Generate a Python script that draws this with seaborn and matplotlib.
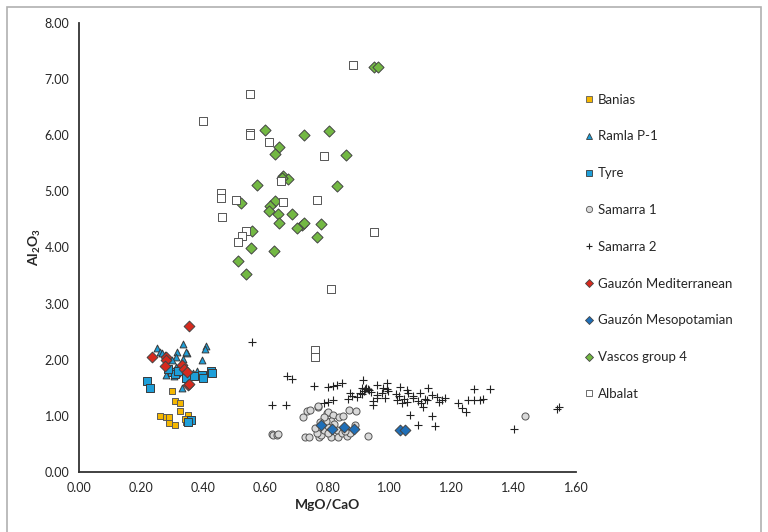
import matplotlib
matplotlib.use("Agg")
import matplotlib.pyplot as plt
import seaborn as sns
from matplotlib.lines import Line2D
from matplotlib.patches import Rectangle

# --- data ---
banias_x = [0.30, 0.31, 0.325, 0.325, 0.26, 0.28, 0.29, 0.29, 0.31, 0.35, 0.345, 0.355, 0.34]
banias_y = [1.45, 1.27, 1.22, 1.08, 1.00, 0.97, 0.98, 0.87, 0.84, 1.01, 0.88, 0.90, 0.94]

ramla_x = [0.25, 0.26, 0.267, 0.335, 0.41, 0.405, 0.395, 0.315, 0.347, 0.312, 0.278, 0.29, 0.30,
           0.28, 0.315, 0.33, 0.38, 0.368, 0.357, 0.30, 0.305, 0.347, 0.333, 0.344, 0.313]
ramla_y = [2.21, 2.14, 2.12, 2.27, 2.24, 2.19, 1.99, 2.14, 2.12, 2.05, 2.08, 2.01, 2.00,
           1.73, 1.76, 1.50, 1.79, 1.76, 1.73, 1.82, 1.71, 1.67, 2.02, 2.13, 1.86]

tyre_x = [0.218, 0.229, 0.30, 0.396, 0.40, 0.425, 0.427, 0.36, 0.35, 0.31, 0.32, 0.345, 0.285, 0.37]
tyre_y = [1.62, 1.50, 1.78, 1.72, 1.67, 1.79, 1.76, 0.92, 0.89, 1.74, 1.80, 1.68, 1.84, 1.70]

sam1_x = [0.62, 0.625, 0.636, 0.64, 0.728, 0.74, 0.722, 0.735, 0.744, 0.768, 0.77, 0.797, 0.80,
          0.819, 0.838, 0.851, 0.87, 0.892, 0.774, 0.78, 0.787, 0.80, 0.81, 0.81, 0.795, 0.765,
          0.83, 0.835, 0.846, 0.862, 0.872, 0.889, 0.93, 1.437, 0.79, 0.82, 0.76, 0.80, 0.855, 0.775]
sam1_y = [0.67, 0.65, 0.66, 0.68, 0.62, 0.62, 0.97, 1.08, 1.10, 1.15, 1.18, 1.05, 1.06,
          1.02, 0.98, 1.00, 1.11, 1.09, 0.62, 0.66, 0.75, 0.81, 0.63, 0.90, 0.90, 0.69,
          0.75, 0.63, 0.69, 0.64, 0.69, 0.84, 0.64, 1.00, 0.97, 0.85, 0.78, 0.70, 0.72, 0.88]

sam2_x = [0.556, 0.67, 0.685, 0.62, 0.665, 0.755, 0.80, 0.817, 0.832, 0.846, 0.872, 0.817, 0.79,
          0.80, 0.915, 0.91, 0.92, 0.925, 0.93, 0.918, 0.935, 0.905, 0.894, 0.958, 0.99, 0.99,
          0.98, 0.995, 0.974, 0.958, 0.947, 0.985, 1.033, 1.055, 1.023, 1.039, 1.055, 1.03,
          1.045, 1.066, 1.076, 1.098, 1.108, 1.09, 1.10, 1.115, 1.125, 1.135, 1.12, 1.151,
          1.168, 1.178, 1.16, 1.135, 1.092, 1.146, 1.221, 1.232, 1.246, 1.253, 1.27, 1.272,
          1.29, 1.30, 1.323, 1.40, 1.538, 1.545, 0.94, 0.96, 1.06, 1.075, 1.02, 0.88, 0.865,
          0.91, 0.945]
sam2_y = [2.31, 1.71, 1.65, 1.20, 1.20, 1.53, 1.52, 1.53, 1.55, 1.58, 1.41, 1.28, 1.23,
          1.25, 1.63, 1.49, 1.47, 1.50, 1.48, 1.45, 1.46, 1.41, 1.34, 1.55, 1.59, 1.48,
          1.50, 1.45, 1.40, 1.31, 1.19, 1.31, 1.51, 1.46, 1.28, 1.22, 1.25, 1.35,
          1.30, 1.02, 1.31, 1.40, 1.16, 1.27, 1.22, 1.30, 1.49, 1.37, 1.28, 1.34,
          1.28, 1.31, 1.24, 1.00, 0.84, 0.81, 1.22, 1.13, 1.07, 1.28, 1.47, 1.28,
          1.28, 1.30, 1.47, 0.76, 1.12, 1.15, 1.42, 1.37, 1.40, 1.35, 1.38, 1.35, 1.30,
          1.38, 1.27]

gmed_x = [0.353, 0.235, 0.281, 0.28, 0.277, 0.33, 0.338, 0.347, 0.352, 0.355]
gmed_y = [2.60, 2.04, 2.05, 1.99, 1.89, 1.91, 1.84, 1.78, 1.55, 1.57]

gmes_x = [0.778, 0.813, 0.854, 0.884, 1.033, 1.049]
gmes_y = [0.83, 0.77, 0.80, 0.77, 0.74, 0.74]

vascos_x = [0.948, 0.962, 0.597, 0.723, 0.806, 0.645, 0.632, 0.859, 0.657, 0.673, 0.652, 0.572,
            0.831, 0.521, 0.632, 0.616, 0.61, 0.642, 0.687, 0.644, 0.718, 0.725, 0.703, 0.78,
            0.765, 0.556, 0.553, 0.627, 0.512, 0.537]
vascos_y = [7.22, 7.22, 6.10, 6.01, 6.07, 5.79, 5.66, 5.65, 5.27, 5.22, 5.24, 5.12,
            5.10, 4.79, 4.83, 4.73, 4.64, 4.60, 4.60, 4.44, 4.40, 4.43, 4.35, 4.41,
            4.18, 4.29, 3.99, 3.94, 3.76, 3.52]

albalat_x = [0.881, 0.55, 0.40, 0.55, 0.55, 0.61, 0.79, 0.65, 0.457, 0.456, 0.505, 0.657, 0.767,
             0.46, 0.538, 0.526, 0.511, 0.948, 0.812, 0.758, 0.758]
albalat_y = [7.25, 6.74, 6.26, 6.04, 6.01, 5.88, 5.62, 5.18, 4.97, 4.88, 4.85, 4.80, 4.85,
             4.54, 4.30, 4.21, 4.09, 4.27, 3.25, 2.17, 2.04]

x_ticks = [0.0, 0.2, 0.4, 0.6, 0.8, 1.0, 1.2, 1.4, 1.6]
y_ticks = [0, 1, 2, 3, 4, 5, 6, 7, 8]

# name, x, y, marker, face, edge, size
series = [
    ("Banias", banias_x, banias_y, "s", "#F5B700", "#5a5a5a", 24),
    ("Ramla P-1", ramla_x, ramla_y, "^", "#1E9FD9", "#3a3a3a", 24),
    ("Tyre", tyre_x, tyre_y, "s", "#1E9FD9", "#3a3a3a", 26),
    ("Samarra 1", sam1_x, sam1_y, "o", "#D9D9D9", "#555555", 26),
    ("Samarra 2", sam2_x, sam2_y, "+", "#222222", None, 30),
    ("Gauzón Mediterranean", gmed_x, gmed_y, "D", "#D62A1E", "#444444", 30),
    ("Gauzón Mesopotamian", gmes_x, gmes_y, "D", "#1F6FB8", "#444444", 30),
    ("Vascos group 4", vascos_x, vascos_y, "D", "#73B843", "#444444", 32),
    ("Albalat", albalat_x, albalat_y, "s", "white", "#555555", 36),
]

sns.set_style("white")
plt.rcParams['font.family'] = ['Lato', 'DejaVu Sans']
plt.rcParams['mathtext.fontset'] = 'custom'
plt.rcParams['mathtext.rm'] = 'Lato'
plt.rcParams['mathtext.bf'] = 'Lato:bold'

fig = plt.figure(figsize=(7.68, 5.32), dpi=100)
ax = fig.add_axes([0.103, 0.113, 0.647, 0.844])

handles = []
for name, xs, ys, mk, fc, ec, s in series:
    if mk == "+":
        sns.scatterplot(x=xs, y=ys, ax=ax, marker="+", color=fc, s=s, linewidth=0.8)
        h = Line2D([], [], ls="none", marker="+", color=fc, markersize=5, markeredgewidth=0.8)
    else:
        sns.scatterplot(x=xs, y=ys, ax=ax, marker=mk, color=fc, edgecolor=ec, s=s, linewidth=0.7)
        h = Line2D([], [], ls="none", marker=mk, markerfacecolor=fc, markeredgecolor=ec,
                   markersize=4.5 if mk != "D" else 4, markeredgewidth=0.6)
    handles.append((h, name))

ax.set_xlim(0, 1.6)
ax.set_ylim(0, 8)
ax.set_xticks(x_ticks)
ax.set_yticks(y_ticks)
ax.set_xticklabels([f"{v:.2f}" for v in x_ticks], fontsize=9)
ax.set_yticklabels([f"{v:.2f}" for v in y_ticks], fontsize=9)
ax.tick_params(axis="both", direction="out", length=4, width=1.2, color="#333333", pad=3)
sns.despine(ax=ax)
for sp in ["left", "bottom"]:
    ax.spines[sp].set_color("#333333")
    ax.spines[sp].set_linewidth(1.3)

ax.set_xlabel("MgO/CaO", fontsize=10, fontweight="bold", labelpad=4)
ax.set_ylabel(r"$\mathbf{Al_2O_3}$", fontsize=10, labelpad=1)

fig.legend([h for h, _ in handles], [n for _, n in handles], loc="upper left",
           bbox_to_anchor=(0.751, 0.834), frameon=False, fontsize=9.5,
           labelspacing=1.88, handletextpad=0.2, handlelength=1.0, borderaxespad=0)

fig.patches.append(Rectangle((0.009, -0.01), 0.982, 0.997, transform=fig.transFigure,
                             fill=False, edgecolor="#b0b0b0", linewidth=1.2))

fig.savefig("out.png", dpi=100)
